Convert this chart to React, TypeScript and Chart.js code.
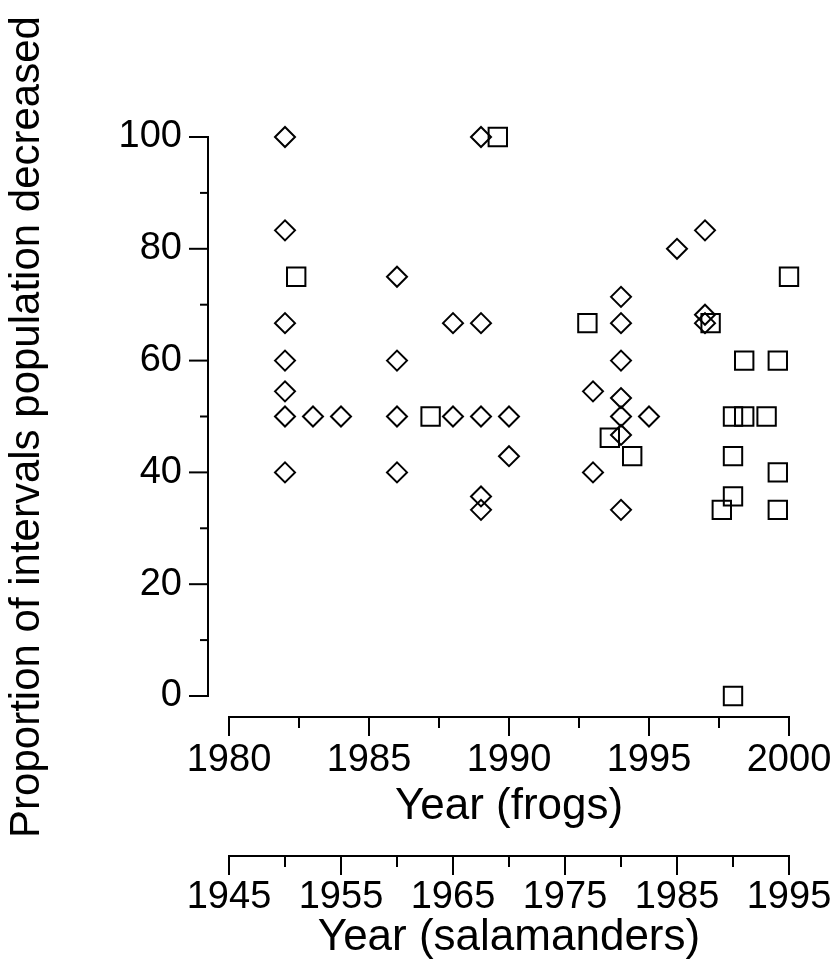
import React, { useEffect, useRef } from 'react';
import { Chart, registerables } from 'chart.js';

Chart.register(...registerables);

// ---- Data ----
const frogYears = [1982, 1982, 1982, 1982, 1982, 1982, 1982, 1983, 1984, 1986, 1986, 1986, 1986, 1988, 1988, 1989, 1989, 1989, 1989, 1989, 1990, 1990, 1993, 1993, 1994, 1994, 1994, 1994, 1994, 1994, 1994, 1995, 1996, 1997, 1997, 1997];
const frogValues = [100, 83.3, 66.7, 60, 54.5, 50, 40, 50, 50, 75, 60, 50, 40, 66.7, 50, 100, 66.7, 50, 35.7, 33.3, 50, 42.9, 54.5, 40, 71.4, 66.7, 60, 53.3, 50, 46.7, 33.3, 50, 80, 83.3, 68.2, 66.7];

const salYears = [1951, 1963, 1969, 1977, 1979, 1981, 1988, 1989, 1990, 1990, 1990, 1990, 1991, 1991, 1993, 1994, 1994, 1994, 1995];
const salValues = [75, 50, 100, 66.7, 46.2, 42.9, 66.7, 33.3, 50, 42.9, 35.7, 0, 60, 50, 50, 60, 40, 33.3, 75];

const yTicks = [0, 20, 40, 60, 80, 100];
const frogTicks = [1980, 1985, 1990, 1995, 2000];
const salTicks = [1945, 1955, 1965, 1975, 1985, 1995];

const yTitle = 'Proportion of intervals population decreased';
const frogTitle = 'Year (frogs)';
const salTitle = 'Year (salamanders)';

const FONT = '"Liberation Sans", Arial, Helvetica, sans-serif';
const Y_GAP = 21;

function midpoints(vals: number[]) {
  const out: number[] = [];
  for (let i = 0; i < vals.length - 1; i++) out.push((vals[i] + vals[i + 1]) / 2);
  return out;
}

const axesPlugin = {
  id: 'detachedAxes',
  afterDraw(chart: any) {
    const ctx = chart.ctx;
    const area = chart.chartArea;
    ctx.save();
    ctx.strokeStyle = '#000';
    ctx.lineWidth = 2;
    ctx.lineCap = 'square';
    const line = (x1: number, y1: number, x2: number, y2: number) => {
      ctx.beginPath();
      ctx.moveTo(x1, y1);
      ctx.lineTo(x2, y2);
      ctx.stroke();
    };
    // y axis
    const ys = chart.scales.y;
    const xl = area.left - Y_GAP;
    const yv = ys.ticks.map((t: any) => t.value);
    line(xl, ys.getPixelForValue(yv[0]), xl, ys.getPixelForValue(yv[yv.length - 1]));
    yv.forEach((v: number) => {
      const p = ys.getPixelForValue(v);
      line(xl - 18, p, xl, p);
    });
    midpoints(yv).forEach((v) => {
      const p = ys.getPixelForValue(v);
      line(xl - 7, p, xl, p);
    });
    // x axes
    ['x', 'x2'].forEach((id) => {
      const s = chart.scales[id];
      const vals = s.ticks.map((t: any) => t.value);
      const yl = s.top;
      line(s.getPixelForValue(vals[0]), yl, s.getPixelForValue(vals[vals.length - 1]), yl);
      vals.forEach((v: number) => {
        const p = s.getPixelForValue(v);
        line(p, yl, p, yl + 18);
      });
      midpoints(vals).forEach((v) => {
        const p = s.getPixelForValue(v);
        line(p, yl, p, yl + 10);
      });
    });
    ctx.restore();
  },
};

const hiddenGrid = (len: number) => ({
  display: true,
  drawOnChartArea: false,
  drawTicks: true,
  tickLength: len,
  tickColor: 'rgba(0,0,0,0)',
  color: 'rgba(0,0,0,0)',
});

export default function App() {
  const ref = useRef<HTMLCanvasElement | null>(null);

  useEffect(() => {
    document.body.style.margin = '0';
    if (!ref.current) return;
    Chart.defaults.color = '#000';
    const chart = new Chart(ref.current, {
      type: 'scatter',
      data: {
        datasets: [
          {
            label: 'Frogs',
            data: frogYears.map((x, i) => ({ x, y: frogValues[i] })),
            xAxisID: 'x',
            yAxisID: 'y',
            pointStyle: 'rectRot',
            pointRadius: 10,
            pointBorderWidth: 2,
            borderColor: '#000',
            backgroundColor: 'rgba(0,0,0,0)',
            pointBackgroundColor: 'rgba(0,0,0,0)',
            pointBorderColor: '#000',
            clip: false,
          } as any,
          {
            label: 'Salamanders',
            data: salYears.map((x, i) => ({ x, y: salValues[i] })),
            xAxisID: 'x2',
            yAxisID: 'y',
            pointStyle: 'rect',
            pointRadius: 13,
            pointBorderWidth: 2,
            borderColor: '#000',
            backgroundColor: 'rgba(0,0,0,0)',
            pointBackgroundColor: 'rgba(0,0,0,0)',
            pointBorderColor: '#000',
            clip: false,
          } as any,
        ],
      },
      options: {
        animation: false,
        responsive: false,
        devicePixelRatio: 1,
        events: [],
        layout: { padding: { left: 0, top: 137, right: 44, bottom: 0 } },
        plugins: { legend: { display: false }, tooltip: { enabled: false } },
        scales: {
          x: {
            type: 'linear',
            axis: 'x',
            position: 'bottom',
            weight: 0,
            min: 1980,
            max: 2000,
            grid: hiddenGrid(21),
            border: { display: false },
            afterBuildTicks: (s: any) => { s.ticks = frogTicks.map((v) => ({ value: v })); },
            afterFit: (s: any) => { s.height = 139; },
            ticks: {
              autoSkip: false,
              maxRotation: 0,
              padding: 0,
              color: '#000',
              font: { family: FONT, size: 38 },
              callback: (v: any) => String(v),
            },
            title: {
              display: true,
              text: frogTitle,
              color: '#000',
              font: { family: FONT, size: 44 },
              padding: { top: 0, bottom: 23 },
            },
          },
          x2: {
            type: 'linear',
            axis: 'x',
            position: 'bottom',
            weight: 1,
            min: 1945,
            max: 1995,
            grid: hiddenGrid(19),
            border: { display: false },
            afterBuildTicks: (s: any) => { s.ticks = salTicks.map((v) => ({ value: v })); },
            afterFit: (s: any) => { s.height = 114; },
            ticks: {
              autoSkip: false,
              maxRotation: 0,
              padding: 0,
              color: '#000',
              font: { family: FONT, size: 38 },
              callback: (v: any) => String(v),
            },
            title: {
              display: true,
              text: salTitle,
              color: '#000',
              font: { family: FONT, size: 44 },
              padding: { top: 0, bottom: 6 },
            },
          },
          y: {
            type: 'linear',
            position: 'left',
            min: -3.76,
            max: 100,
            grid: hiddenGrid(47),
            border: { display: false },
            afterBuildTicks: (s: any) => { s.ticks = yTicks.map((v) => ({ value: v })); },
            afterFit: (s: any) => { s.width = 229; },
            ticks: {
              padding: 0,
              color: '#000',
              font: { family: FONT, size: 38 },
              callback: (v: any) => String(v),
            },
            title: {
              display: true,
              text: yTitle,
              color: '#000',
              font: { family: FONT, size: 42 },
              padding: { top: 2, bottom: 0 },
            },
          },
        },
      } as any,
      plugins: [axesPlugin],
    });
    return () => chart.destroy();
  }, []);

  return (
    <div style={{ width: 833, height: 970, background: '#fff' }}>
      <canvas ref={ref} width={833} height={970} style={{ display: 'block' }} />
    </div>
  );
}
